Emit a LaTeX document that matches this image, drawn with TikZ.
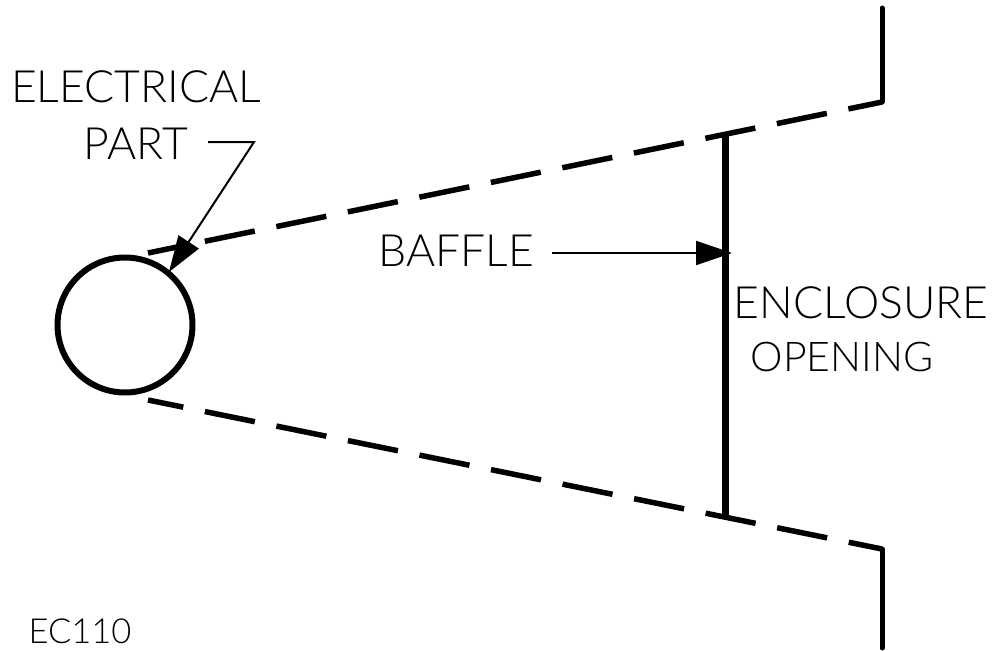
\documentclass[tikz,border=0pt]{standalone}
\usepackage{fontspec}
\setmainfont{Lato Light}
\usetikzlibrary{arrows.meta, positioning}

\begin{document}
\begin{tikzpicture}
            [x=1pt, y=-1pt, node distance=6pt,
            label/.style={font=\fontsize{44.5}{44.5}\selectfont, inner sep=0pt, align=center},
            part/.style={circle, draw=black, line width=6pt, minimum size=135pt, inner sep=0pt},
            wall/.style={line width=5pt, line cap=round, line join=miter},
            sight/.style={line width=5.5pt, dash pattern=on 51pt off 22pt, dash phase=15pt},
            leader/.style={line width=2pt},
            pointer/.style={leader, -{Triangle[length=36pt, width=24pt]}, shorten >=0pt}]
            \useasboundingbox (0,0) rectangle (992,650);
            % part and baffle
            \node[part]         (part)  at (125,325) {};
            \coordinate         (baffletop)    at (725,135);
            \coordinate         (bafflebot)    at (725,518);
            \draw[line width=7pt] (baffletop) -- (bafflebot);
            % walls of the enclosure
            \coordinate         (topstart)     at (148,253);
            \coordinate         (topcorner)    at (882,102);
            \coordinate         (topend)       at (882,8);
            \coordinate         (botstart)     at (148,400);
            \coordinate         (botcorner)    at (882,549);
            \coordinate         (botend)       at (882,648);
            \draw[sight] (topstart) -- (topcorner);
            \draw[sight] (botstart) -- (botcorner);
            \draw[wall] (topcorner) -- (topend);
            \draw[wall] (botcorner) -- (botend);
            % labels
            \node[label]        (electrical) at (136,87)  {ELECTRICAL};
            \node[label]        (partlabel)  at (136,144) {PART};
            \node[label]        (baffle)     at (456,251) {BAFFLE};
            \node[label]        (enclosure)  at (861,303) {ENCLOSURE};
            \node[label, font=\fontsize{41}{41}\selectfont] (opening) at (842,357) {OPENING};
            \node[font=\fontsize{34.5}{34.5}\selectfont, inner sep=0pt] (code) at (80,631) {EC110};
            % leaders
            \coordinate         (elbow)        at (254,142);
            \coordinate         (parttip)      at (169,272);
            \coordinate         (baffletip)    at (732,253);
            \draw[pointer] (208,142) -- (elbow) -- (parttip);
            \draw[pointer] (552,253) -- (baffletip);
        \end{tikzpicture}
\end{document}
